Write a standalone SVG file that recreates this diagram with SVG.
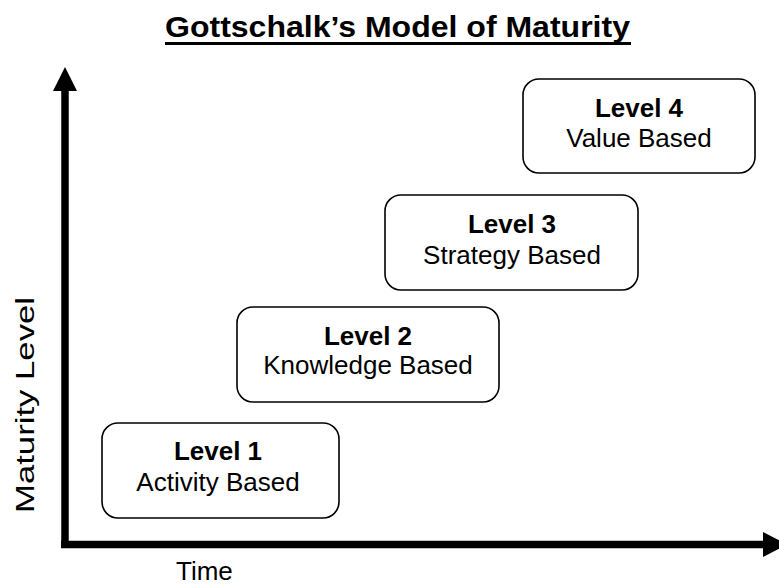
<svg xmlns="http://www.w3.org/2000/svg" width="779" height="586" viewBox="0 0 779 586">
  <style>
    .box { fill: #ffffff; stroke: #000000; stroke-width: 1.6; }
    .lvl { font-family: "Liberation Sans", Arial, sans-serif; font-size: 26px; font-weight: bold; fill: #000; text-anchor: middle; }
    .sub { font-family: "Liberation Sans", Arial, sans-serif; font-size: 26px; fill: #000; text-anchor: middle; }
    .axis { stroke: #000000; stroke-width: 7.5; fill: none; }
    .label { font-family: "Liberation Sans", Arial, sans-serif; font-size: 26px; fill: #000; }
    .title { font-family: "Liberation Sans", Arial, sans-serif; font-size: 30px; font-weight: bold; fill: #000; }
  </style>
  <rect width="779" height="586" fill="#ffffff"/>

  <!-- title with underline -->
  <g id="title">
    <text class="title" x="165" y="37" textLength="465" lengthAdjust="spacingAndGlyphs">Gottschalk’s Model of Maturity</text>
    <rect x="165" y="42" width="466" height="3" fill="#000"/>
  </g>

  <!-- axes -->
  <g id="connectors">
    <line class="axis" x1="65" y1="548" x2="65" y2="88"/>
    <polygon points="65,67 53,91 77,91" fill="#000"/>
    <line class="axis" x1="61" y1="544.5" x2="765" y2="544.5"/>
    <polygon points="787,544.5 763,532 763,557" fill="#000"/>
  </g>

  <!-- axis labels -->
  <g id="axis-labels">
    <text class="label" x="176" y="580">Time</text>
    <text class="label" font-size="30" transform="translate(34,405) rotate(-90)" text-anchor="middle" textLength="216" lengthAdjust="spacingAndGlyphs">Maturity Level</text>
  </g>

  <!-- maturity levels -->
  <g id="level1">
    <rect class="box" x="102" y="423" width="237" height="95" rx="16"/>
    <text class="lvl" x="218" y="460">Level 1</text>
    <text class="sub" x="218" y="491">Activity Based</text>
  </g>
  <g id="level2">
    <rect class="box" x="237" y="307" width="262" height="95" rx="16"/>
    <text class="lvl" x="368" y="345">Level 2</text>
    <text class="sub" x="368" y="374">Knowledge Based</text>
  </g>
  <g id="level3">
    <rect class="box" x="385" y="195" width="253" height="95" rx="16"/>
    <text class="lvl" x="512" y="233">Level 3</text>
    <text class="sub" x="512" y="264">Strategy Based</text>
  </g>
  <g id="level4">
    <rect class="box" x="523" y="79" width="232" height="94" rx="16"/>
    <text class="lvl" x="639" y="117">Level 4</text>
    <text class="sub" x="639" y="147">Value Based</text>
  </g>
</svg>
